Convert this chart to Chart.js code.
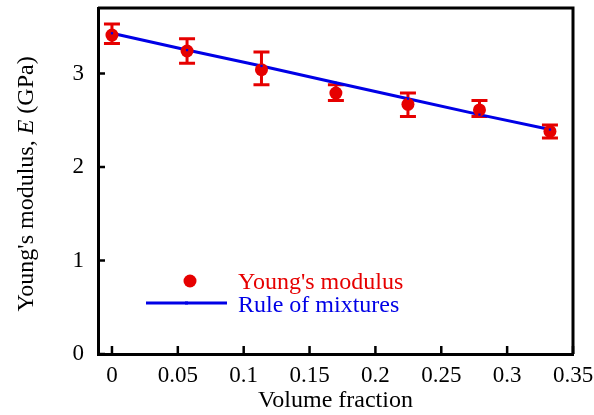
<!DOCTYPE html>
<html>
<head>
<meta charset="utf-8">
<script src="https://cdn.jsdelivr.net/npm/chart.js@4/dist/chart.umd.min.js"></script>
<style>
  html, body { margin: 0; padding: 0; background: #fff; }
  #wrap { width: 594px; height: 415px; position: relative; }
</style>
</head>
<body>
<div id="wrap"><canvas id="c"></canvas></div>
<script>
// ---- data ----
const volumeFraction = [0, 0.057, 0.1135, 0.170, 0.2247, 0.279, 0.3325];
const youngsModulus  = [3.41, 3.24, 3.04, 2.79, 2.67, 2.61, 2.38];
const errorLow       = [3.32, 3.11, 2.88, 2.71, 2.54, 2.54, 2.31];
const errorHigh      = [3.53, 3.37, 3.23, 2.88, 2.79, 2.71, 2.45];
const ruleOfMixtures = [3.43, 3.25, 3.08, 2.90, 2.73, 2.56, 2.40];
const xTicks = [0, 0.05, 0.1, 0.15, 0.2, 0.25, 0.3, 0.35];
const yTicks = [0, 1, 2, 3];
const seriesNames = ["Young's modulus", "Rule of mixtures"];
const xTitle = "Volume fraction";

const RED = '#e60000';
const BLUE = '#0000e6';
const FONT = '"Liberation Serif", "Times New Roman", serif';
const FS = 23;
const TS = 24;

const pts = (ys) => volumeFraction.map((x, i) => ({ x: x, y: ys[i] }));

const errorBars = {
  id: 'errorBars',
  beforeDatasetsDraw(chart) {
    const { ctx, scales: { x, y } } = chart;
    ctx.save();
    ctx.strokeStyle = RED;
    ctx.lineWidth = 3;
    const cap = 8;
    volumeFraction.forEach((v, i) => {
      const px = x.getPixelForValue(v);
      const pl = y.getPixelForValue(errorLow[i]);
      const ph = y.getPixelForValue(errorHigh[i]);
      ctx.beginPath();
      ctx.moveTo(px, pl); ctx.lineTo(px, ph);
      ctx.moveTo(px - cap, pl); ctx.lineTo(px + cap, pl);
      ctx.moveTo(px - cap, ph); ctx.lineTo(px + cap, ph);
      ctx.stroke();
    });
    ctx.restore();
  }
};

const frame = {
  id: 'frame',
  afterDraw(chart) {
    const { ctx, chartArea: a, scales: { x, y } } = chart;
    ctx.save();
    ctx.strokeStyle = '#000';
    ctx.lineWidth = 3;
    ctx.beginPath();
    ctx.moveTo(a.left, a.top); ctx.lineTo(a.right, a.top); ctx.lineTo(a.right, a.bottom);
    ctx.stroke();
    ctx.lineWidth = 2.5;
    ctx.beginPath();
    xTicks.forEach(v => {
      const px = x.getPixelForValue(v);
      ctx.moveTo(px, a.bottom); ctx.lineTo(px, a.bottom - 8);
    });
    yTicks.forEach(v => {
      const py = y.getPixelForValue(v);
      ctx.moveTo(a.left, py); ctx.lineTo(a.left + 7, py);
    });
    ctx.stroke();

    // y-axis title with italic E
    const parts = [
      { t: "Young's modulus, ", f: TS + 'px ' + FONT },
      { t: "E", f: 'italic ' + TS + 'px ' + FONT },
      { t: " (GPa)", f: TS + 'px ' + FONT }
    ];
    let total = 0;
    parts.forEach(p => { ctx.font = p.f; p.w = ctx.measureText(p.t).width; total += p.w; });
    ctx.translate(27, 184);
    ctx.rotate(-Math.PI / 2);
    ctx.fillStyle = '#000';
    ctx.textBaseline = 'middle';
    ctx.textAlign = 'left';
    let cx = -total / 2;
    parts.forEach(p => { ctx.font = p.f; ctx.fillText(p.t, cx, 0); cx += p.w; });
    ctx.restore();

    // legend
    ctx.save();
    ctx.font = TS + 'px ' + FONT;
    ctx.textBaseline = 'middle';
    ctx.fillStyle = RED;
    ctx.beginPath(); ctx.arc(190, 281, 6.5, 0, Math.PI * 2); ctx.fill();
    ctx.fillText(seriesNames[0], 238, 283);
    ctx.strokeStyle = BLUE; ctx.lineWidth = 3;
    ctx.beginPath(); ctx.moveTo(146, 303); ctx.lineTo(227, 303); ctx.stroke();
    ctx.fillStyle = BLUE;
    ctx.fillRect(185, 301.5, 3, 3);
    ctx.fillText(seriesNames[1], 238, 306);
    ctx.restore();
  }
};

new Chart(document.getElementById('c'), {
  type: 'scatter',
  data: {
    datasets: [
      {
        label: seriesNames[1],
        type: 'line',
        data: pts(ruleOfMixtures),
        borderColor: BLUE,
        borderWidth: 3,
        pointRadius: 0,
        fill: false,
        tension: 0,
        order: 3
      },
      {
        label: seriesNames[0],
        data: pts(youngsModulus),
        backgroundColor: RED,
        borderColor: RED,
        pointRadius: 6.5,
        pointBorderWidth: 0,
        order: 2
      },
      {
        label: 'markers',
        data: pts(ruleOfMixtures),
        backgroundColor: BLUE,
        borderColor: BLUE,
        pointStyle: 'rect',
        pointRadius: 1.6,
        pointBorderWidth: 0,
        order: 1
      }
    ]
  },
  options: {
    responsive: true,
    maintainAspectRatio: false,
    animation: false,
    events: [],
    layout: { padding: { top: 8, right: 21, left: 0, bottom: 0 } },
    plugins: { legend: { display: false }, tooltip: { enabled: false } },
    scales: {
      x: {
        type: 'linear',
        min: -0.0106,
        max: 0.35,
        afterBuildTicks: s => { s.ticks = xTicks.map(v => ({ value: v })); },
        afterFit: s => { s.height = 61; s.paddingLeft = 0; s.paddingRight = 0; },
        ticks: { font: { family: FONT, size: FS }, color: '#000', padding: 8, maxRotation: 0, autoSkip: false,
                 callback: v => String(v) },
        grid: { drawOnChartArea: false, drawTicks: false },
        border: { display: true, color: '#000', width: 3 },
        title: { display: true, text: xTitle, color: '#000', font: { family: FONT, size: TS }, padding: 0 }
      },
      y: {
        type: 'linear',
        min: 0,
        max: 3.7,
        afterBuildTicks: s => { s.ticks = yTicks.map(v => ({ value: v })); },
        afterFit: s => { s.width = 98; s.paddingTop = 0; s.paddingBottom = 0; },
        ticks: { font: { family: FONT, size: FS }, color: '#000', padding: 14, callback: v => String(v) },
        grid: { drawOnChartArea: false, drawTicks: false },
        border: { display: true, color: '#000', width: 3 }
      }
    }
  },
  plugins: [errorBars, frame]
});
</script>
</body>
</html>
